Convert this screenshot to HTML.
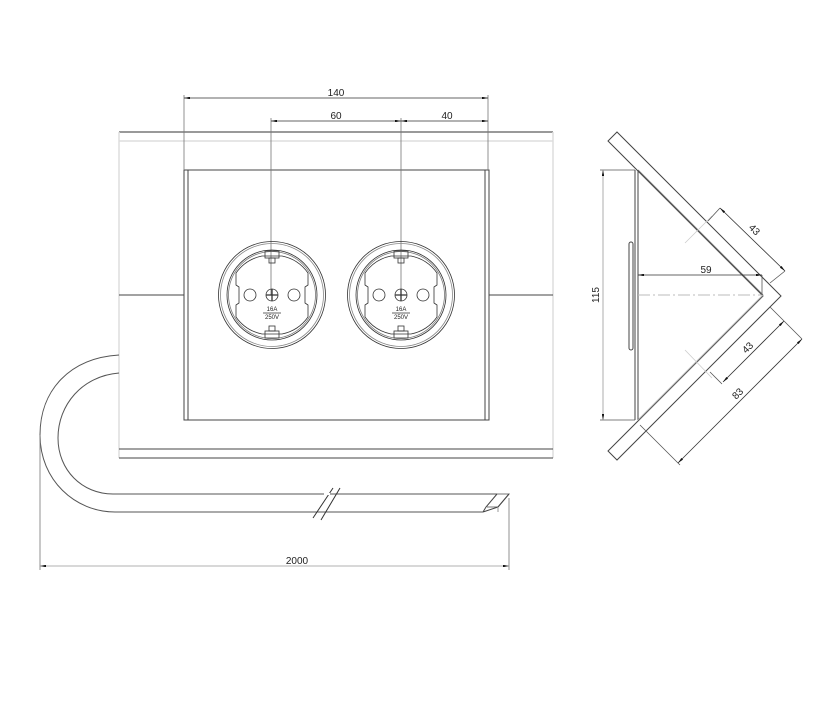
<!DOCTYPE html>
<html><head><meta charset="utf-8"><style>
html,body{margin:0;padding:0;background:#fff;}
svg{display:block;}
text{font-family:"Liberation Sans",sans-serif;font-size:10px;fill:#222;}
</style></head><body>
<svg width="824" height="702" viewBox="0 0 824 702" xmlns="http://www.w3.org/2000/svg">
<defs>
<marker id="a" viewBox="0 0 10 4" refX="10" refY="2" markerWidth="8" markerHeight="3" orient="auto-start-reverse"><path d="M0,0 L10,2 L0,4Z" fill="#111"/></marker>
<g id="sock" fill="none" stroke="#333" stroke-width="0.8">
<circle r="53.5"/><circle r="51.5" stroke="#888"/><circle r="45"/><circle r="43.5" stroke="#777"/>
<path d="M-36,-22 A42,42 0 0 1 -10,-39 L10,-39 A42,42 0 0 1 36,-22 L36,-10 L33,-8 L33,8 L36,10 L36,22 A42,42 0 0 1 10,39 L-10,39 A42,42 0 0 1 -36,22 L-36,10 L-33,8 L-33,-8 L-36,-10Z"/>
<circle cx="-22" cy="0" r="6"/><circle cx="22" cy="0" r="6"/>
<circle r="6"/><path d="M-6,0H6M0,-6V6" stroke-width="1.3"/>
<rect x="-7" y="-44" width="14" height="7"/><rect x="-3" y="-37" width="6" height="5"/>
<rect x="-7" y="36" width="14" height="7"/><rect x="-3" y="31" width="6" height="5"/>
<line x1="-9" y1="18" x2="9" y2="18"/>
<text x="0" y="16" text-anchor="middle" style="font-size:6px;stroke:none;fill:#222">16A</text>
<text x="0" y="24" text-anchor="middle" style="font-size:6px;stroke:none;fill:#222">250V</text>
</g>
</defs>
<g fill="none" stroke="#444" stroke-width="1">
<!-- body -->
<line x1="119" y1="132" x2="553" y2="132" stroke="#333"/>
<line x1="119" y1="141" x2="553" y2="141" stroke="#ddd" stroke-width="1.5"/>
<line x1="119" y1="132" x2="119" y2="458" stroke="#ddd" stroke-width="1.5"/>
<line x1="553" y1="132" x2="553" y2="458" stroke="#ddd" stroke-width="1.5"/>
<line x1="119" y1="449" x2="553" y2="449"/>
<line x1="119" y1="458" x2="553" y2="458"/>
<line x1="119" y1="295" x2="184" y2="295"/>
<line x1="489" y1="295" x2="553" y2="295"/>
<!-- plate -->
<rect x="184" y="170" width="305" height="250"/>
<line x1="188" y1="170" x2="188" y2="420"/>
<line x1="485" y1="170" x2="485" y2="420"/>
<!-- cable -->
<path d="M119,355 C70,358 40,390 40,435 C40,480 75,512 115,512 L483,512" stroke="#555"/>
<path d="M119,373 C82,376 58,405 58,438 C58,470 82,494 113,494 L497,494" stroke="#555"/>
<path d="M497,494 L509,494 L498,507 L487,507" stroke="#777"/>
<path d="M483,512 L498,507 M497,494 L486,507 L483,512"/>
<line x1="509" y1="494" x2="498" y2="507"/>
<line x1="498" y1="507" x2="498" y2="512" stroke="#999"/>
<line x1="313" y1="518" x2="333" y2="488" stroke="#333"/>
<line x1="321" y1="520" x2="340" y2="488" stroke="#333"/>
<line x1="324" y1="494" x2="330" y2="494" stroke="#fff" stroke-width="2"/>
<!-- dims front -->
<g stroke="#777" stroke-width="0.8">
<line x1="184" y1="95" x2="184" y2="170"/><line x1="488" y1="95" x2="488" y2="170"/>
<line x1="271" y1="118" x2="271" y2="295"/><line x1="401" y1="118" x2="401" y2="295"/>
<line x1="40" y1="435" x2="40" y2="570"/><line x1="509" y1="498" x2="509" y2="570"/>
</g>
<line x1="184" y1="98" x2="488" y2="98" stroke="#333" stroke-width="0.8" marker-start="url(#a)" marker-end="url(#a)"/>
<line x1="271" y1="121" x2="401" y2="121" stroke="#333" stroke-width="0.8" marker-start="url(#a)" marker-end="url(#a)"/>
<line x1="401" y1="121" x2="488" y2="121" stroke="#333" stroke-width="0.8" marker-start="url(#a)" marker-end="url(#a)"/>
<line x1="40" y1="566" x2="509" y2="566" stroke="#999" stroke-width="0.8" marker-start="url(#a)" marker-end="url(#a)"/>
</g>
<text x="336" y="96" text-anchor="middle">140</text>
<text x="336" y="119" text-anchor="middle">60</text>
<text x="447" y="119" text-anchor="middle">40</text>
<text x="297" y="564" text-anchor="middle">2000</text>
<use href="#sock" x="272" y="295"/>
<use href="#sock" x="401" y="295"/>
<!-- side view -->
<g fill="none" stroke="#444" stroke-width="1">
<path d="M617,132 L781,296 L617,460 L608,451 L763,296 L608,141Z"/>
<line x1="635" y1="170" x2="635" y2="420"/>
<line x1="638" y1="170" x2="638" y2="420"/>
<rect x="629" y="242" width="4" height="108" rx="2"/>
<line x1="638" y1="170" x2="763" y2="295" stroke="#666"/>
<line x1="638" y1="420" x2="763" y2="295" stroke="#aaa"/>
<line x1="638" y1="295" x2="762" y2="295" stroke="#bbb" stroke-dasharray="12,3,2,3"/>
<line x1="600" y1="170" x2="635" y2="170" stroke="#555" stroke-width="0.8"/>
<line x1="600" y1="420" x2="635" y2="420" stroke="#555" stroke-width="0.8"/>
<line x1="603" y1="170" x2="603" y2="420" stroke="#999" stroke-width="0.8" marker-start="url(#a)" marker-end="url(#a)"/>
<line x1="638" y1="275" x2="762" y2="275" stroke="#333" stroke-width="0.8" marker-start="url(#a)" marker-end="url(#a)"/>
<line x1="762" y1="275" x2="762" y2="295" stroke="#555" stroke-width="0.8"/>
<line x1="685" y1="243" x2="712" y2="216" stroke="#ccc" stroke-width="0.8"/>
<line x1="708" y1="221" x2="720" y2="208" stroke="#555" stroke-width="0.8"/>
<line x1="720" y1="208" x2="785" y2="271" stroke="#333" stroke-width="0.8" marker-start="url(#a)" marker-end="url(#a)"/>
<line x1="770" y1="283" x2="785" y2="271" stroke="#555" stroke-width="0.8"/>
<line x1="685" y1="350" x2="712" y2="378" stroke="#ccc" stroke-width="0.8"/>
<line x1="710" y1="372" x2="722" y2="384" stroke="#555" stroke-width="0.8"/>
<line x1="784" y1="321" x2="723" y2="382" stroke="#333" stroke-width="0.8" marker-start="url(#a)" marker-end="url(#a)"/>
<line x1="770" y1="307" x2="802" y2="339" stroke="#555" stroke-width="0.8"/>
<line x1="640" y1="425" x2="680" y2="465" stroke="#555" stroke-width="0.8"/>
<line x1="802" y1="339" x2="678" y2="463" stroke="#333" stroke-width="0.8" marker-start="url(#a)" marker-end="url(#a)"/>
</g>
<text x="706" y="273" text-anchor="middle">59</text>
<text x="0" y="0" text-anchor="middle" transform="translate(599,295) rotate(-90)">115</text>
<text x="0" y="0" text-anchor="middle" transform="translate(752,232) rotate(45)">43</text>
<text x="0" y="0" text-anchor="middle" transform="translate(750,350) rotate(-45)">43</text>
<text x="0" y="0" text-anchor="middle" transform="translate(740,396) rotate(-45)">83</text>
</svg>
</body></html>
